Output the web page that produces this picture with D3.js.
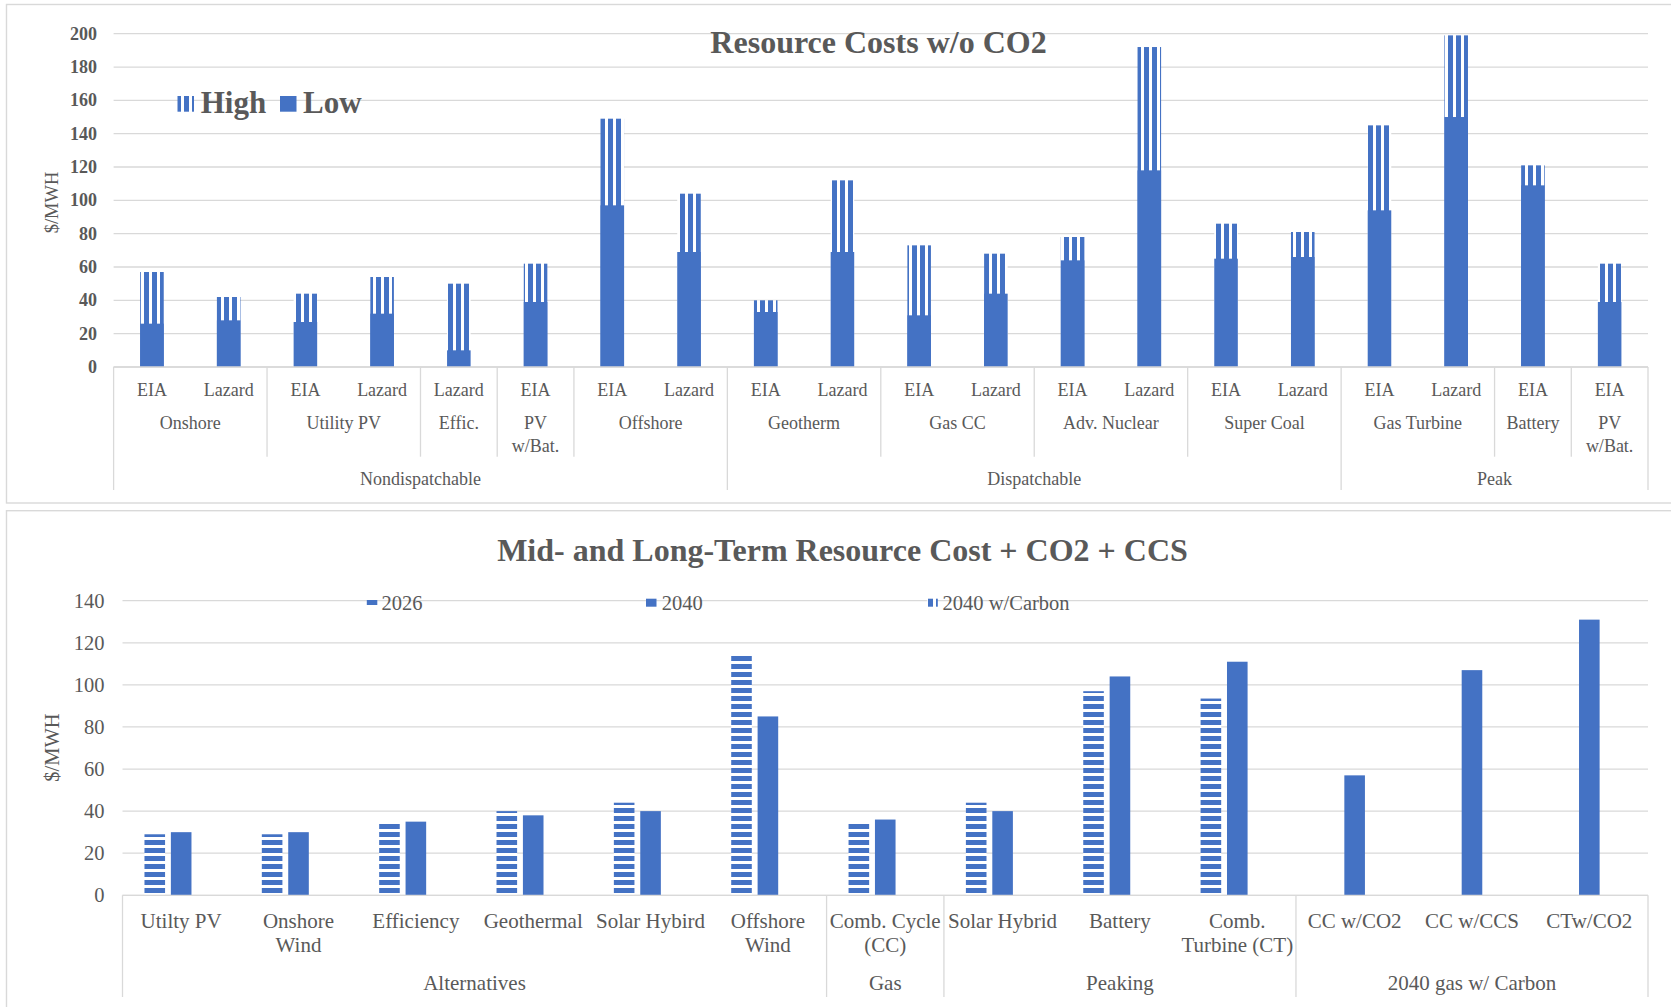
<!DOCTYPE html>
<html><head><meta charset="utf-8">
<script src="https://cdn.jsdelivr.net/npm/d3@7"></script>
<style>
html,body{margin:0;padding:0;background:#fff;overflow:hidden;}
svg{display:block;}
text{font-family:"Liberation Serif","Times New Roman",serif;fill:#595959;}
</style></head><body>
<svg id="c" width="1671" height="1007"></svg>
<script>
// ---------- Top chart data ----------
const topTitle = "Resource Costs w/o CO2";
const topSources = ["EIA","Lazard","EIA","Lazard","Lazard","EIA","EIA","Lazard","EIA","Lazard",
                    "EIA","Lazard","EIA","Lazard","EIA","Lazard","EIA","Lazard","EIA","EIA"];
const topResources = ["Onshore","Onshore","Utility PV","Utility PV","Effic.","PV\nw/Bat.","Offshore","Offshore",
                      "Geotherm","Geotherm","Gas CC","Gas CC","Adv. Nuclear","Adv. Nuclear","Super Coal","Super Coal",
                      "Gas Turbine","Gas Turbine","Battery","PV\nw/Bat."];
const topSections = ["Nondispatchable","Nondispatchable","Nondispatchable","Nondispatchable","Nondispatchable","Nondispatchable","Nondispatchable","Nondispatchable",
                     "Dispatchable","Dispatchable","Dispatchable","Dispatchable","Dispatchable","Dispatchable","Dispatchable","Dispatchable",
                     "Peak","Peak","Peak","Peak"];
const topHigh = [57,42,44,54,50,62,149,104,40,112,73,68,78,192,86,81,145,199,121,62];
const topLow  = [26,28,27,32,10,39,97,69,33,69,31,44,64,118,65,66,94,150,109,39];
const topTicks = [0,20,40,60,80,100,120,140,160,180,200];
const topSeries = ["High","Low"];

// ---------- Bottom chart data ----------
const botTitle = "Mid- and Long-Term Resource Cost + CO2 + CCS";
const botCategories = ["Utilty PV","Onshore\nWind","Efficiency","Geothermal","Solar Hybird","Offshore\nWind",
                       "Comb. Cycle\n(CC)","Solar Hybrid","Battery","Comb.\nTurbine (CT)","CC w/CO2","CC w/CCS","CTw/CO2"];
const botGroups = ["Alternatives","Alternatives","Alternatives","Alternatives","Alternatives","Alternatives",
                   "Gas","Peaking","Peaking","Peaking","2040 gas w/ Carbon","2040 gas w/ Carbon","2040 gas w/ Carbon"];
const bot2026 = [29,29,35,40,44,115,34.7,44,97,93.5,null,null,null];
const bot2040 = [30,30,35,38,40,85,36,40,104,111,57,107,131];
const bot2040Carbon = [null,null,null,null,null,null,null,null,null,null,null,null,null];
const botTicks = [0,20,40,60,80,100,120,140];
const botSeries = ["2026","2040","2040 w/Carbon"];

// ---------- helpers ----------
const BLUE = "#4472C4", GRID = "#D9D9D9", TXT = "#595959";
const svg = d3.select("#c");
function runs(arr){
  const out=[];
  arr.forEach((v,i)=>{
    const last = out[out.length-1];
    if(last && last.name===v && last.end===i) last.end=i+1;
    else out.push({name:v,start:i,end:i+1});
  });
  return out;
}
function multiText(g, x, y, str, size, lh){
  const lines = str.split("\n");
  const t = g.append("text").attr("x",x).attr("y",y).attr("text-anchor","middle")
    .attr("dominant-baseline","central").style("font-size",size+"px");
  lines.forEach((l,i)=>t.append("tspan").attr("x",x).attr("dy", i===0?0:lh).text(l));
}

// patterns
const defs = svg.append("defs");
const pv = defs.append("pattern").attr("id","vstripe").attr("patternUnits","userSpaceOnUse")
  .attr("width",8).attr("height",8);
pv.append("rect").attr("width",8).attr("height",8).attr("fill","#fff");
pv.append("rect").attr("width",5).attr("height",8).attr("fill",BLUE);
const ph = defs.append("pattern").attr("id","hstripe").attr("patternUnits","userSpaceOnUse")
  .attr("width",8).attr("height",8);
ph.append("rect").attr("width",8).attr("height",8).attr("fill","#fff");
ph.append("rect").attr("width",8).attr("height",5).attr("fill",BLUE);

// frames
svg.append("rect").attr("x",6.5).attr("y",4.5).attr("width",1670).attr("height",498.5)
  .attr("fill","#fff").attr("stroke",GRID).attr("stroke-width",1.4);
svg.append("rect").attr("x",6.5).attr("y",510.7).attr("width",1670).attr("height",520)
  .attr("fill","#fff").attr("stroke",GRID).attr("stroke-width",1.4);

// =============== TOP CHART ===============
(function(){
  const g = svg.append("g");
  const L = 113.6, R = 1648;
  const x = d3.scaleBand().domain(d3.range(topSources.length)).range([L,R]).padding(0);
  const y = d3.scaleLinear().domain([0,200]).range([367,33.7]);
  const bw = x.bandwidth()*0.307;

  // gridlines
  g.selectAll(".gl").data(topTicks).enter().append("line")
    .attr("x1",L).attr("x2",R).attr("y1",d=>y(d)).attr("y2",d=>y(d))
    .attr("stroke",GRID).attr("stroke-width",1.3);

  // y labels
  g.selectAll(".yl").data(topTicks).enter().append("text")
    .attr("x",97).attr("y",d=>y(d)).attr("text-anchor","end").attr("dominant-baseline","central")
    .style("font-size","18px").style("font-weight","bold").text(d=>d);

  // High bars (pattern), then Low bars (solid)
  g.selectAll(".hb").data(topHigh).enter().append("rect")
    .attr("x",(d,i)=>x(i)+(x.bandwidth()-bw)/2).attr("width",bw)
    .attr("y",d=>y(d)).attr("height",d=>y(0)-y(d)).attr("fill","url(#vstripe)");
  g.selectAll(".lb").data(topLow).enter().append("rect")
    .attr("x",(d,i)=>x(i)+(x.bandwidth()-bw)/2).attr("width",bw)
    .attr("y",d=>y(d)).attr("height",d=>y(0)-y(d)).attr("fill",BLUE);

  // axis line
  g.append("line").attr("x1",L).attr("x2",R).attr("y1",y(0)).attr("y2",y(0))
    .attr("stroke",GRID).attr("stroke-width",1.3);

  // level 0 labels
  topSources.forEach((s,i)=>multiText(g, x(i)+x.bandwidth()/2, 390, s, 18, 23));
  // level 1 groups
  const r1 = runs(topResources), r2 = runs(topSections);
  const secBounds = new Set(r2.map(r=>r.start).concat(r2.map(r=>r.end)));
  r1.forEach(r=>{
    const cx = (x(r.start) + x(r.end-1)+x.bandwidth())/2;
    multiText(g, cx, 423, r.name, 18, 23);
  });
  const bounds1 = new Set(r1.map(r=>r.start).concat(r1.map(r=>r.end)));
  bounds1.forEach(b=>{
    const bx = b < topSources.length ? x(b) : R;
    const y2 = secBounds.has(b) ? 490 : 456.7;
    g.append("line").attr("x1",bx).attr("x2",bx).attr("y1",y(0)).attr("y2",y2)
      .attr("stroke",GRID).attr("stroke-width",1.3);
  });
  r2.forEach(r=>{
    const cx = (x(r.start) + x(r.end-1)+x.bandwidth())/2;
    multiText(g, cx, 479, r.name, 18, 23);
  });

  // y-axis title
  g.append("text").attr("transform","translate(51.8,202.5) rotate(-90)")
    .attr("text-anchor","middle").attr("dominant-baseline","central")
    .style("font-size","18.5px").text("$/MWH");

  // title
  g.append("text").attr("x",878.5).attr("y",53.3).attr("text-anchor","middle")
    .style("font-size","32px").style("font-weight","bold").text(topTitle);

  // legend
  const leg = [{name:topSeries[0], fill:"url(#vstripe)", ix:177.5, tx:200.7},
               {name:topSeries[1], fill:BLUE, ix:280, tx:303}];
  leg.forEach(l=>{
    g.append("rect").attr("x",l.ix).attr("y",96).attr("width",16.5).attr("height",15.7).attr("fill",l.fill);
    g.append("text").attr("x",l.tx).attr("y",112.7).style("font-size","31px").style("font-weight","bold").text(l.name);
  });
})();

// =============== BOTTOM CHART ===============
(function(){
  const g = svg.append("g");
  const L = 122.5, R = 1648;
  const x0 = d3.scaleBand().domain(d3.range(botCategories.length)).range([L,R]).padding(0);
  const clusterW = x0.bandwidth()*0.6255;
  const x1 = d3.scaleBand().domain(botSeries).range([0,clusterW]).paddingInner(0.22).paddingOuter(0);
  const off = (x0.bandwidth()-clusterW)/2;
  const y = d3.scaleLinear().domain([0,140]).range([895.3,600.7]);

  g.selectAll(".gl").data(botTicks).enter().append("line")
    .attr("x1",L).attr("x2",R).attr("y1",d=>y(d)).attr("y2",d=>y(d))
    .attr("stroke",GRID).attr("stroke-width",1.3);
  g.selectAll(".yl").data(botTicks).enter().append("text")
    .attr("x",104.6).attr("y",d=>y(d)).attr("text-anchor","end").attr("dominant-baseline","central")
    .style("font-size","20.5px").text(d=>d);

  const seriesData = [
    {name:botSeries[0], vals:bot2026, fill:"url(#hstripe)"},
    {name:botSeries[1], vals:bot2040, fill:BLUE},
    {name:botSeries[2], vals:bot2040Carbon, fill:"url(#vstripe)"}
  ];
  seriesData.forEach(s=>{
    g.selectAll(null).data(s.vals.map((v,i)=>({v,i})).filter(d=>d.v!=null)).enter().append("rect")
      .attr("x",d=>x0(d.i)+off+x1(s.name)).attr("width",x1.bandwidth())
      .attr("y",d=>y(d.v)).attr("height",d=>y(0)-y(d.v)).attr("fill",s.fill);
  });

  g.append("line").attr("x1",L).attr("x2",R).attr("y1",y(0)).attr("y2",y(0))
    .attr("stroke",GRID).attr("stroke-width",1.3);

  botCategories.forEach((c,i)=>multiText(g, x0(i)+x0.bandwidth()/2, 921, c, 21, 24));
  const rg = runs(botGroups);
  const bset = new Set(rg.map(r=>r.start).concat(rg.map(r=>r.end)));
  bset.forEach(b=>{
    const bx = b < botCategories.length ? x0(b) : R;
    g.append("line").attr("x1",bx).attr("x2",bx).attr("y1",y(0)).attr("y2",997)
      .attr("stroke",GRID).attr("stroke-width",1.3);
  });
  rg.forEach(r=>{
    const cx = (x0(r.start)+x0(r.end-1)+x0.bandwidth())/2;
    multiText(g, cx, 983.3, r.name, 21, 24);
  });

  g.append("text").attr("transform","translate(51.7,747.5) rotate(-90)")
    .attr("text-anchor","middle").attr("dominant-baseline","central")
    .style("font-size","20.5px").text("$/MWH");

  g.append("text").attr("x",842.5).attr("y",561).attr("text-anchor","middle")
    .style("font-size","32px").style("font-weight","bold").text(botTitle);

  const lpos = [{ix:366.8, tx:381.4},{ix:646, tx:661.7},{ix:927.3, tx:942.6}];
  seriesData.forEach((s,i)=>{
    g.append("rect").attr("x",lpos[i].ix).attr("y",598.7).attr("width",10.5).attr("height",8).attr("fill",s.fill);
    g.append("text").attr("x",lpos[i].tx).attr("y",610).style("font-size","20.5px").text(s.name);
  });
})();
</script>
</body></html>
